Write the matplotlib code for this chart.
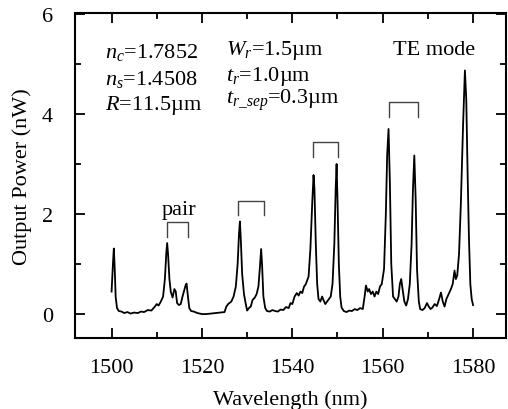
import numpy as np
import matplotlib
matplotlib.use('Agg')
import matplotlib.pyplot as plt
from matplotlib.ticker import MultipleLocator

plt.rcParams['font.family'] = ['Liberation Serif', 'DejaVu Serif']
plt.rcParams['mathtext.fontset'] = 'custom'
plt.rcParams['mathtext.rm'] = 'Liberation Serif'
plt.rcParams['mathtext.it'] = 'Liberation Serif:italic'

# spectrum (wavelength nm, power nW)
wl = [1500.0, 1500.3, 1500.5, 1500.7, 1500.9, 1501.2, 1501.6, 1502.2, 1502.8, 1503.5,
      1504.2, 1505.0, 1505.8, 1506.5, 1507.2, 1508.0, 1508.8, 1509.5, 1510.0, 1510.4,
      1510.9, 1511.4, 1511.8, 1512.1, 1512.3, 1512.5, 1512.8, 1513.1, 1513.5, 1513.9,
      1514.2, 1514.5, 1514.9, 1515.3, 1515.7, 1516.0, 1516.4, 1516.6, 1516.9, 1517.2,
      1517.6, 1518.2, 1519.0, 1520.0, 1521.0, 1522.0, 1523.0, 1524.0, 1525.0, 1525.4,
      1525.8, 1526.5, 1527.0, 1527.5, 1527.9, 1528.2, 1528.4, 1528.6, 1528.9, 1529.3,
      1529.7, 1530.0, 1530.4, 1530.8, 1531.2, 1531.7, 1532.1, 1532.5, 1532.8, 1533.1,
      1533.3, 1533.6, 1534.0, 1534.4, 1535.0, 1535.6, 1536.2, 1536.8, 1537.4, 1538.0,
      1538.6, 1539.2, 1539.6, 1540.0, 1540.5, 1541.0, 1541.4, 1541.8, 1542.2, 1542.6,
      1543.0, 1543.6, 1544.0, 1544.4, 1544.7, 1544.9, 1545.2, 1545.5, 1545.8, 1546.2,
      1546.6, 1546.9, 1547.3, 1547.7, 1548.1, 1548.5, 1548.9, 1549.3, 1549.6, 1549.8,
      1550.0, 1550.3, 1550.6, 1550.9, 1551.4, 1552.0, 1552.6, 1553.2, 1553.8, 1554.4,
      1555.0, 1555.6, 1556.0, 1556.3, 1556.7, 1557.0, 1557.4, 1557.8, 1558.2, 1558.6,
      1559.0, 1559.4, 1559.8, 1560.3, 1560.7, 1561.0, 1561.3, 1561.6, 1561.9, 1562.3,
      1562.7, 1563.1, 1563.5, 1563.8, 1564.1, 1564.4, 1564.8, 1565.2, 1565.6, 1566.0,
      1566.4, 1566.7, 1567.0, 1567.3, 1567.6, 1568.0, 1568.3, 1568.8, 1569.3, 1569.8,
      1570.2, 1570.6, 1571.0, 1571.5, 1572.0, 1572.5, 1572.9, 1573.3, 1573.7, 1574.1,
      1574.6, 1575.1, 1575.5, 1575.9, 1576.2, 1576.5, 1576.9, 1577.3, 1577.8, 1578.2,
      1578.5, 1578.8, 1579.1, 1579.4, 1579.7, 1580.0]
power = [0.45, 1.0, 1.31, 0.9, 0.35, 0.12, 0.06, 0.05, 0.02, 0.04,
         0.01, 0.03, 0.02, 0.05, 0.04, 0.08, 0.07, 0.14, 0.2, 0.17,
         0.25, 0.35, 0.7, 1.2, 1.42, 1.2, 0.7, 0.45, 0.33, 0.5,
         0.45, 0.22, 0.18, 0.2, 0.35, 0.45, 0.58, 0.61, 0.35, 0.12,
         0.06, 0.05, 0.02, 0.0, 0.0, 0.01, 0.02, 0.03, 0.04, 0.15,
         0.2, 0.25, 0.35, 0.55, 1.0, 1.6, 1.85, 1.5, 0.8, 0.4,
         0.2, 0.07, 0.12, 0.15, 0.28, 0.33, 0.4, 0.55, 0.9, 1.3,
         1.0, 0.35, 0.12, 0.06, 0.05, 0.08, 0.06, 0.05, 0.09, 0.08,
         0.14, 0.12, 0.22, 0.2, 0.35, 0.42, 0.37, 0.45, 0.42, 0.55,
         0.6, 0.75, 1.3, 2.2, 2.78, 2.5, 1.4, 0.6, 0.3, 0.25,
         0.35, 0.28, 0.2, 0.25, 0.3, 0.35, 0.6, 1.4, 2.5, 3.0,
         2.3, 1.0, 0.35, 0.13, 0.06, 0.04, 0.07, 0.06, 0.1, 0.08,
         0.12, 0.1, 0.35, 0.57, 0.45, 0.5, 0.4, 0.45, 0.35, 0.45,
         0.4, 0.55, 0.6, 0.9, 2.0, 3.2, 3.7, 2.6, 1.0, 0.35,
         0.3, 0.25, 0.35, 0.6, 0.7, 0.5, 0.25, 0.17, 0.3, 0.6,
         1.4, 2.5, 3.17, 2.3, 0.9, 0.25, 0.1, 0.08, 0.12, 0.22,
         0.15, 0.1, 0.13, 0.2, 0.16, 0.3, 0.43, 0.25, 0.15, 0.3,
         0.4, 0.5, 0.6, 0.87, 0.7, 0.77, 1.2, 2.2, 3.8, 4.87,
         4.3, 2.8, 1.5, 0.6, 0.3, 0.18]

# brackets marking the mode pairs: (left, right, bottom, top)
pair_left = [1512.2, 1527.9, 1544.5, 1561.4]
pair_right = [1517.0, 1533.8, 1550.2, 1567.8]
pair_bottom = [1.55, 1.98, 3.13, 3.93]
pair_top = [1.85, 2.27, 3.43, 4.23]

params_left = [r'$n_c$=1.7852', r'$n_s$=1.4508', r'$R$=11.5µm']
params_right = [r'$W_r$=1.5µm', r'$t_r$=1.0µm', r'$t_{r\_sep}$=0.3µm']
params_left_y = [5.13, 4.6, 4.1]
params_right_y = [5.2, 4.67, 4.21]

fig = plt.figure(figsize=(5.08, 4.10), dpi=100)
ax = fig.add_axes([0.1476, 0.173, 0.8494, 0.793])

ax.plot(wl, power, color='black', lw=1.3)

for l, r, b, t in zip(pair_left, pair_right, pair_bottom, pair_top):
    ax.plot([l, l, r, r], [b, t, t, b], color='#444444', lw=1.0)

for s, y in zip(params_left, params_left_y):
    ax.text(1498.5, y, s, fontsize=16, va='baseline', ha='left')
for s, y in zip(params_right, params_right_y):
    ax.text(1525.4, y, s, fontsize=16, va='baseline', ha='left')
ax.text(1562.3, 5.2, 'TE mode', fontsize=16, va='baseline', ha='left')
ax.text(1514.9, 2.0, 'pair', fontsize=16, va='baseline', ha='center')

ax.set_xlim(1491.9, 1587.4)
ax.set_ylim(-0.48, 6.02)
ax.xaxis.set_major_locator(MultipleLocator(20))
ax.xaxis.set_minor_locator(MultipleLocator(10))
ax.yaxis.set_major_locator(MultipleLocator(2))
ax.yaxis.set_minor_locator(MultipleLocator(1))
ax.tick_params(which='both', direction='in', top=True, right=True, labelsize=16, width=1.3)
ax.tick_params(which='major', length=7)
ax.tick_params(which='minor', length=4.5)
ax.tick_params(axis='x', which='major', pad=14)
ax.tick_params(axis='y', which='major', pad=16)
for sp in ax.spines.values():
    sp.set_linewidth(1.5)

ax.set_xlabel('Wavelength (nm)', fontsize=16, labelpad=9)
ax.set_ylabel('Output Power (nW)', fontsize=16, labelpad=7)

fig.savefig('out.png', dpi=100)
